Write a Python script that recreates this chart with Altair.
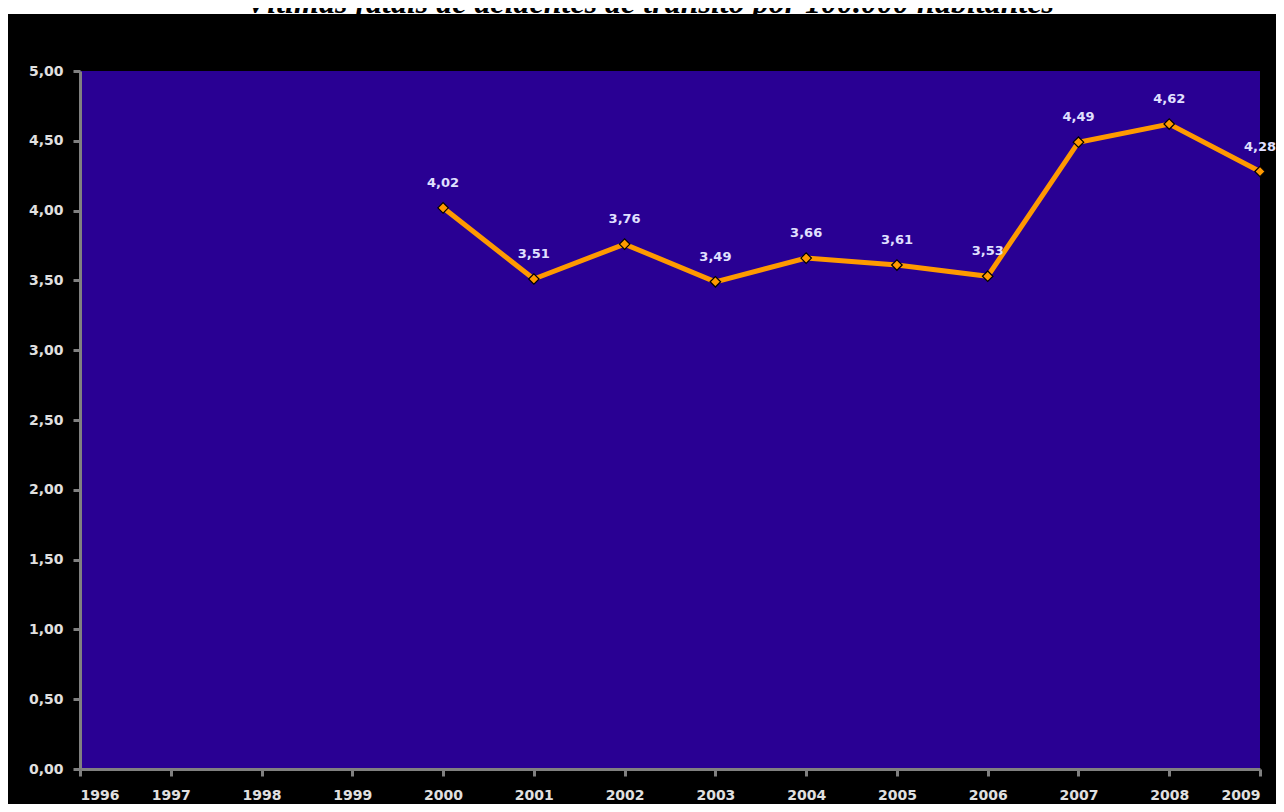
import altair as alt
import pandas as pd

years = [2000, 2001, 2002, 2003, 2004, 2005, 2006, 2007, 2008, 2009]
values = [4.02, 3.51, 3.76, 3.49, 3.66, 3.61, 3.53, 4.49, 4.62, 4.28]
x_ticks = list(range(1996, 2010))
y_ticks = [0, 0.5, 1.0, 1.5, 2.0, 2.5, 3.0, 3.5, 4.0, 4.5, 5.0]
title_text = ["Vítimas fatais de acidentes de trânsito por 100.000 habitantes"]

df = pd.DataFrame({"ano": years, "valor": values})
tdf = pd.DataFrame({"t": title_text})

W, H = 1180, 698
PL, PT, PR, PB = 72, 63, 16, 35

x = alt.X("ano:Q",
          scale=alt.Scale(domain=[1996, 2009], nice=False, zero=False),
          axis=alt.Axis(values=x_ticks, format="d", title=None, labelPadding=12))
y = alt.Y("valor:Q",
          scale=alt.Scale(domain=[0, 5], nice=False),
          axis=alt.Axis(values=y_ticks, title=None, labelPadding=10,
                        labelExpr="replace(format(datum.value, '.2f'), '.', ',')"))

base = alt.Chart(df).encode(x=x, y=y)

line = base.mark_line(color="#ff9900", strokeWidth=5)
pts = base.mark_point(shape="diamond", filled=True, fill="#ff9900",
                      stroke="#000000", strokeWidth=1.2, size=110, opacity=1)
labels = base.transform_calculate(
    lbl="replace(format(datum.valor, '.2f'), '.', ',')"
).mark_text(dy=-25, font="DejaVu Sans", fontWeight="bold", fontSize=13,
            color="#e0e0ff", baseline="middle").encode(text="lbl:N")

white_strip = alt.Chart(tdf).mark_rect(color="#ffffff").encode(
    x=alt.value(-PL), x2=alt.value(W + PR), y=alt.value(-PT), y2=alt.value(-PT + 6)
)
title = alt.Chart(tdf).mark_text(
    font="Liberation Serif", fontStyle="italic", fontWeight="bold", fontSize=32,
    color="#000000", align="center", baseline="alphabetic"
).encode(text="t:N", x=alt.value(W / 2 - 20), y=alt.value(-PT + 5))

chart = alt.layer(white_strip, title, line, pts, labels).properties(
    width=W, height=H,
    autosize=alt.AutoSizeParams(type="none"),
    padding={"left": PL, "top": PT, "right": PR, "bottom": PB},
    background="#000000",
).configure_view(
    fill="#290093", stroke=None
).configure_axis(
    grid=False, domainColor="#808080", domainWidth=3, tickColor="#808080",
    tickWidth=3, tickSize=7, labelColor="#e0e0e0", labelFont="DejaVu Sans",
    labelFontWeight="bold", labelFontSize=14, zindex=1
)

chart.save("out.html", embed_options={"renderer": "svg", "actions": False})
